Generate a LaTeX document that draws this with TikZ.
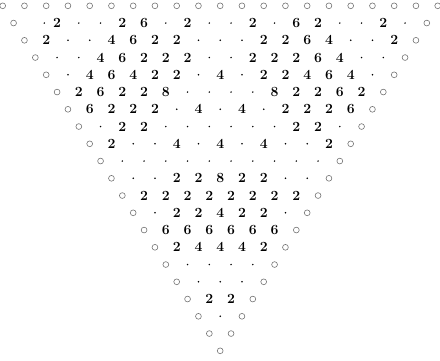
\documentclass[tikz,border=0pt]{standalone}
\usepackage{xcolor}
\definecolor{circgray}{gray}{0.45}
\begin{document}
\begin{tikzpicture}[x=1pt,y=1pt,
  circ/.style={circle, draw=circgray, line width=0.6pt, minimum size=5.8pt, inner sep=0pt},
  dotc/.style={circle, fill=black, minimum size=1.7pt, inner sep=0pt},
  num/.style={inner sep=0pt, anchor=center, font=\fontsize{14}{16}\selectfont\bfseries}]
\useasboundingbox (0,0) rectangle (440,-361);
\foreach \row [count=\r from 0] in {
{o,o,o,o,o,o,o,o,o,o,o,o,o,o,o,o,o,o,o,o,o},
{o,e,2,d,d,2,6,d,2,d,d,2,d,6,2,d,d,2,d,o},
{o,2,d,d,4,6,2,2,d,d,d,2,2,6,4,d,d,2,o},
{o,d,d,4,6,2,2,2,d,d,2,2,2,6,4,d,d,o},
{o,d,4,6,4,2,2,d,4,d,2,2,4,6,4,d,o},
{o,2,6,2,2,8,d,d,d,d,8,2,2,6,2,o},
{o,6,2,2,2,d,4,d,4,d,2,2,2,6,o},
{o,d,2,2,d,d,d,d,d,d,2,2,d,o},
{o,2,d,d,4,d,4,d,4,d,d,2,o},
{o,d,d,d,d,d,d,d,d,d,d,o},
{o,d,d,2,2,8,2,2,d,d,o},
{o,2,2,2,2,2,2,2,2,o},
{o,d,2,2,4,2,2,d,o},
{o,6,6,6,6,6,6,o},
{o,2,4,4,4,2,o},
{o,d,d,d,d,o},
{o,d,d,d,o},
{o,2,2,o},
{o,d,o},
{o,o},
{o}}
{
  \foreach \e [count=\k from 0] in \row {
    \def\sh{0}\def\tx{}
    \if o\e \def\st{circ}\else
      \if d\e \def\st{dotc}\else
        \if e\e \def\st{dotc}\def\sh{9}\else
          \def\st{num}\edef\tx{\e}\fi\fi\fi
    \node[\st] (n-\r-\k) at ({2.7+(\r/2+\k)*21.75+\sh}, {-5.8-\r*17.25}) {\tx};
  }
}
\end{tikzpicture}
\end{document}
